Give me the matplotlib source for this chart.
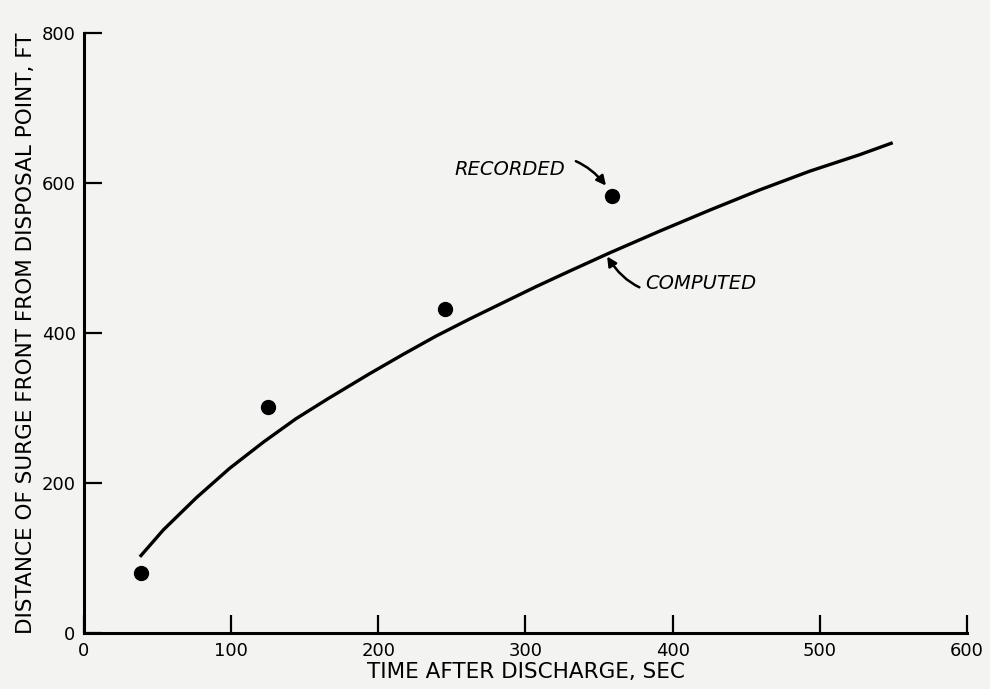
import matplotlib.pyplot as plt

# values
time_computed = [38, 54, 76.5, 99, 122, 144, 166, 194, 217, 239, 262,
                 285, 307, 329, 357, 391, 425, 459, 493, 527, 549.5]
dist_computed = [102, 138, 181, 220, 255, 286, 313, 346, 372, 396, 419,
                 441, 462, 482, 507, 536, 564, 591, 616, 638, 654]
time_recorded = [39, 125, 245, 359]
dist_recorded = [81, 302, 432, 583]
x_ticks = [0, 100, 200, 300, 400, 500, 600]
y_ticks = [0, 200, 400, 600, 800]

bg = '#f3f3f1'
fig = plt.figure(figsize=(9.9, 6.89), dpi=100, facecolor=bg)
ax = fig.add_axes([0.0848, 0.0808, 0.892, 0.871], facecolor=bg)

ax.plot(time_computed, dist_computed, color='black', lw=2.4,
        solid_capstyle='butt', solid_joinstyle='round')
ax.plot(time_recorded, dist_recorded, 'o', color='black', markersize=10)

ax.set_xlim(0, 600)
ax.set_ylim(0, 800)
ax.set_xticks(x_ticks)
ax.set_yticks(y_ticks)
for s in ['top', 'right']:
    ax.spines[s].set_visible(False)
for s in ['left', 'bottom']:
    ax.spines[s].set_linewidth(2.2)
ax.tick_params(direction='in', length=13, width=1.6, labelsize=13, pad=6)

ax.set_xlabel('TIME AFTER DISCHARGE, SEC', fontsize=15.5, labelpad=2)
ax.set_ylabel('DISTANCE OF SURGE FRONT FROM DISPOSAL POINT, FT', fontsize=15.5, labelpad=4)

ax.annotate('RECORDED', xy=(357, 591), xytext=(327, 618), fontsize=14,
            fontstyle='italic', ha='right', va='center',
            arrowprops=dict(arrowstyle='-|>', color='black', lw=1.8,
                            shrinkA=6, shrinkB=4,
                            connectionstyle='arc3,rad=-0.45'))
ax.annotate('COMPUTED', xy=(355, 504), xytext=(381, 467), fontsize=14,
            fontstyle='italic', ha='left', va='center',
            arrowprops=dict(arrowstyle='-|>', color='black', lw=1.8,
                            shrinkA=2, shrinkB=1,
                            connectionstyle='arc3,rad=-0.45'))

plt.savefig('out.png', dpi=100, facecolor=bg)
